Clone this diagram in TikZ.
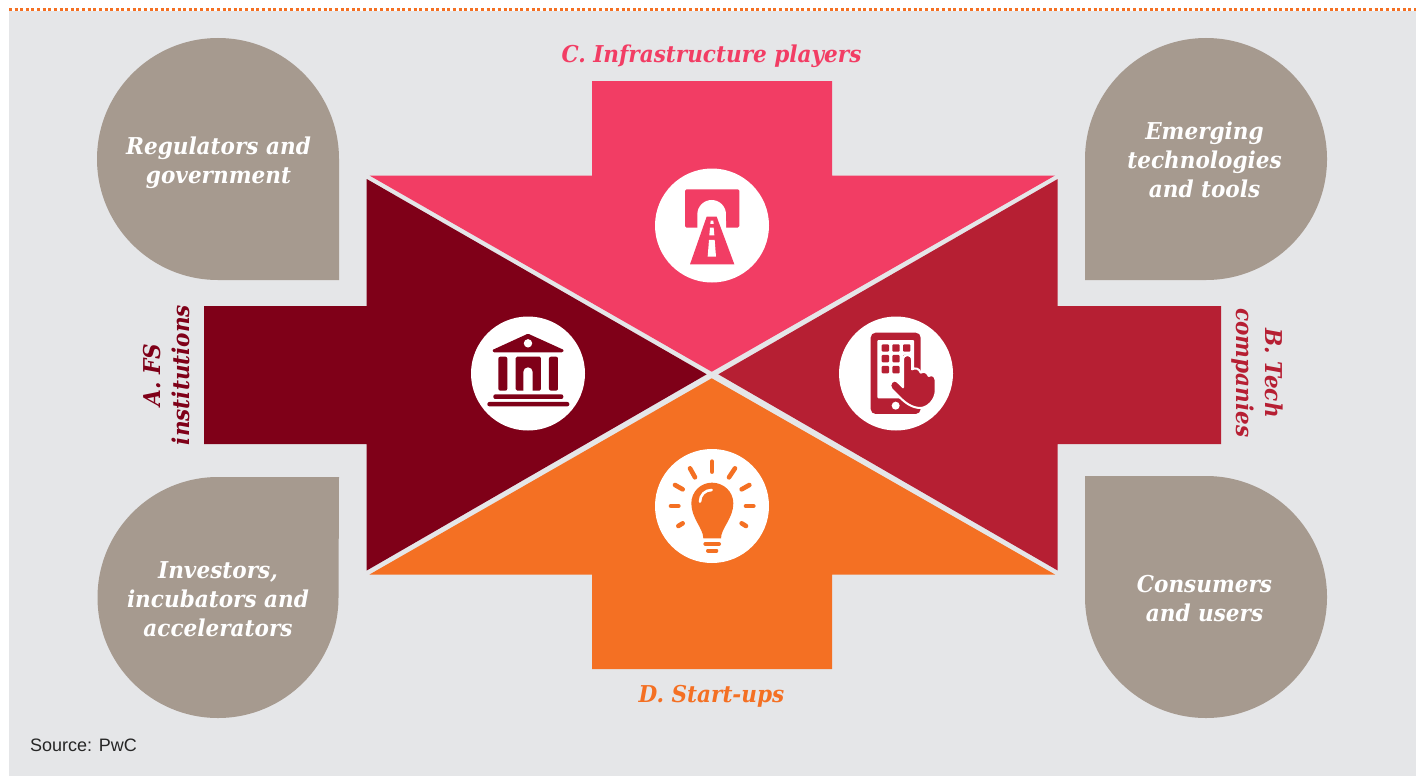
\documentclass[tikz,border=0pt]{standalone}
\usepackage{fontspec}
\setmainfont{Liberation Sans}
\newfontfamily\lab[FakeStretch=0.93]{DejaVu Serif}
\definecolor{pagebg}{HTML}{E5E6E8}
\definecolor{cpink}{HTML}{F23D64}
\definecolor{cdark}{HTML}{7F0018}
\definecolor{cred}{HTML}{B61F33}
\definecolor{corange}{HTML}{F47023}
\definecolor{cgray}{HTML}{A69A8F}
\tikzset{
  drop/.style={fill=cgray,draw=none},
  droptext/.style={text=white,align=center,font=\lab\bfseries\itshape\fontsize{23.2}{29}\selectfont,inner sep=0pt},
  headtext/.style={align=center,font=\lab\bfseries\itshape\fontsize{23.2}{29}\selectfont,inner sep=0pt},
  disc/.style={circle,fill=white,draw=none,minimum size=114pt,inner sep=0pt},
  iconzoom/.style={x=0.3333pt,y=-0.3333pt},
}
\begin{document}
\begin{tikzpicture}[x=1pt,y=-1pt]
\useasboundingbox (0,0) rectangle (1423,776);
\fill[white] (0,0) rectangle (1423,776);
\fill[pagebg] (9,11) rectangle (1416,776);
\draw[corange,line width=3pt,dash pattern=on 3pt off 2.62pt] (9,9.5) -- (1416,9.5);

% drops
\fill[drop] (339,280) -- (218,280) arc[start angle=270,end angle=0,radius=121pt] -- cycle;
\fill[drop] (1085,280) -- (1206,280) arc[start angle=-90,end angle=180,radius=121pt] -- cycle;
\fill[drop] (339,477) -- (218,477) arc[start angle=90,end angle=360,radius=120.5pt] -- cycle;
\fill[drop] (1085,476) -- (1206,476) arc[start angle=90,end angle=-180,radius=121pt] -- cycle;

% arrows
\fill[cpink] (592,81) -- (832,81) -- (832,175.5) -- (1055,175.5) -- (711.7,371.7) -- (369.5,175.5) -- (592,175.5) -- cycle;
\fill[cdark] (204,306) -- (366.7,306) -- (366.7,179) -- (706.7,374.3) -- (366.7,570.5) -- (366.7,444) -- (204,444) -- cycle;
\fill[cred] (1221,306) -- (1057.7,306) -- (1057.7,179) -- (718.3,374.3) -- (1057.7,570.5) -- (1057.7,444) -- (1221,444) -- cycle;
\fill[corange] (592,669) -- (832,669) -- (832,574.5) -- (1055,574.5) -- (711.7,378.3) -- (369.5,574.5) -- (592,574.5) -- cycle;

% discs
\node[disc] (dC) at (712,225.5) {};
\node[disc] (dA) at (528,373.5) {};
\node[disc] (dB) at (896,373.5) {};
\node[disc] (dD) at (712,506) {};

% tunnel icon
\begin{scope}[shift={(640,155)},iconzoom]
\fill[cpink,rounded corners=1.5pt] (135,103) -- (298,103) -- (298,218) -- (135,218) -- cycle;
\fill[white] (172,225) -- (172,178) arc[start angle=180,end angle=0,radius=14.33pt] -- (258,225) -- cycle;
\fill[cpink] (200,185) -- (230,185) -- (283,328) -- (150,328) -- cycle;
\fill[white] (212,197) -- (220,197) -- (221,207) -- (211,207) -- cycle;
\fill[white] (210,218) -- (221,218) -- (223,241) -- (208,241) -- cycle;
\fill[white] (207,255) -- (224,255) -- (228,305) -- (203,305) -- cycle;
\end{scope}

% bank icon
\begin{scope}[shift={(460,310)},iconzoom]
\fill[cdark,rounded corners=1pt] (204,71) -- (312,120) -- (308,127) -- (100,127) -- (97,120) -- cycle;
\fill[white] (204,100) circle[radius=4.2pt];
\fill[cdark,rounded corners=2pt] (115,140) rectangle (142,242);
\fill[cdark,rounded corners=2pt] (267,140) rectangle (294,242);
\fill[cdark,rounded corners=1.5pt] (167,140) rectangle (243,242);
\fill[white] (190,245) -- (190,186) arc[start angle=180,end angle=0,radius=4.67pt] -- (218,245) -- cycle;
\fill[cdark,rounded corners=2pt] (100,253) rectangle (310,267);
\fill[cdark,rounded corners=2pt] (82,276) rectangle (328,289);
\end{scope}

% phone icon
\begin{scope}[shift={(830,310)},iconzoom]
\fill[cred,rounded corners=5pt] (122,68) rectangle (272,312);
\fill[white,rounded corners=1pt] (142,90) rectangle (252,265);
\fill[white] (197,287) circle[radius=4pt];
\foreach \kx in {155,187,219}
  \foreach \ky in {103,135,168}
    \fill[cred,rounded corners=1pt] (\kx,\ky) rectangle ++(22,22);
\fill[cred,draw=white,line width=2pt,line join=round]
  (219,150) .. controls (219,130) and (246,130) .. (246,150)
  -- (246,178) .. controls (256,172) and (268,176) .. (272,188)
  .. controls (282,182) and (293,188) .. (296,198)
  .. controls (306,192) and (317,198) .. (317,212)
  -- (317,245) .. controls (315,270) and (295,292) .. (272,294)
  .. controls (245,294) and (225,278) .. (205,258)
  -- (185,238) .. controls (172,225) and (190,200) .. (205,218)
  -- (219,232) -- cycle;
\end{scope}

% bulb icon
\begin{scope}[shift={(645,450)},iconzoom]
\fill[corange] (175,265) .. controls (175,235) and (139,205) .. (139,160)
  .. controls (139,125) and (167,98) .. (201,98)
  .. controls (236,98) and (265,125) .. (265,160)
  .. controls (265,205) and (228,235) .. (228,265) -- cycle;
\draw[white,line width=2.6pt,line cap=round] (165,155) .. controls (165,135) and (180,120) .. (200,120);
\draw[corange,line width=4pt,line cap=round] (181,282) -- (222,282);
\draw[corange,line width=4pt,line cap=round] (189,302) -- (214,302);
\foreach \ax/\ay/\bx/\by in {201/35/201/65,135/55/150/82,270/55/252/82,90/105/113/118,313/105/290/118,78/168/100/168,303/168/325/168,100/228/113/220,303/228/290/220}
  \draw[corange,line width=4.6pt,line cap=round] (\ax,\ay) -- (\bx,\by);
\end{scope}

% texts
\node[droptext] (t1) at (218.5,162.5) {Regulators and\\government};
\node[droptext] (t2) at (1204.5,160) {Emerging\\technologies\\and tools};
\node[droptext] (t3) at (218,599) {Investors,\\incubators and\\accelerators};
\node[droptext] (t4) at (1204.5,598.5) {Consumers\\and users};
\node[headtext,text=cpink] (hC) at (711.5,56.5) {C. Infrastructure players};
\node[headtext,text=corange] (hD) at (711.5,696.5) {D. Start-ups};
\node[headtext,text=cdark,rotate=90] (hA) at (167,375) {A. FS\\institutions};
\node[headtext,text=cred,rotate=-90] (hB) at (1257,373) {B. Tech\\companies};
\node[anchor=base west,inner sep=0pt,font=\fontsize{18}{20}\selectfont,text=black!85] (src) at (30,751) {Source: PwC};
\end{tikzpicture}
\end{document}
